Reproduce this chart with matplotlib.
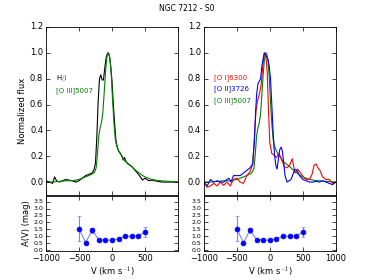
import numpy as np
import matplotlib
matplotlib.use('Agg')
import matplotlib.pyplot as plt

plt.style.use('classic')

# Left panel: Hbeta and [O III]5007 profiles
v_hb = [-1000, -950, -900, -870, -840, -800, -750, -700, -650, -600, -550, -500,
        -450, -400, -350, -300, -270, -250, -230, -210, -190, -170, -150, -130,
        -110, -90, -70, -55, -40, -20, 0, 20, 40, 60, 80, 100, 130, 150, 170,
        190, 210, 240, 270, 300, 350, 400, 430, 460, 500, 530, 560, 600, 650,
        700, 750, 800, 900, 1000]
f_hb = [0.01, 0.0, -0.01, 0.04, 0.01, 0.0, 0.01, 0.02, 0.015, 0.01, 0.0, 0.01,
        0.03, 0.05, 0.06, 0.07, 0.10, 0.15, 0.35, 0.62, 0.80, 0.83, 0.79, 0.79,
        0.88, 0.96, 0.995, 1.0, 0.98, 0.90, 0.78, 0.60, 0.45, 0.32, 0.27, 0.24,
        0.22, 0.20, 0.17, 0.19, 0.16, 0.14, 0.13, 0.12, 0.09, 0.06, 0.04, 0.015,
        0.03, 0.02, 0.01, 0.015, 0.01, 0.005, 0.0, 0.0, 0.0, 0.0]

v_o3 = [-1000, -900, -800, -700, -600, -500, -400, -330, -290, -260, -240,
        -220, -200, -180, -160, -140, -120, -100, -80, -60, -45, -30, -10, 10,
        30, 50, 70, 100, 150, 200, 250, 300, 350, 400, 450, 500, 600, 700, 800,
        900, 1000]
f_o3 = [0.0, 0.0, 0.005, 0.01, 0.01, 0.02, 0.04, 0.055, 0.065, 0.08, 0.11,
        0.22, 0.36, 0.42, 0.46, 0.53, 0.68, 0.84, 0.96, 1.0, 0.99, 0.95, 0.82,
        0.62, 0.45, 0.33, 0.28, 0.24, 0.20, 0.16, 0.14, 0.12, 0.095, 0.075,
        0.055, 0.04, 0.02, 0.012, 0.008, 0.004, 0.0]

# Right panel: [O I]6300 and [O II]3726 profiles
v_o1 = [-1000, -950, -900, -850, -800, -750, -700, -650, -600, -550, -500,
        -450, -400, -350, -300, -260, -230, -210, -190, -170, -150, -130, -110,
        -90, -75, -60, -40, -20, 0, 30, 60, 100, 130, 150, 180, 220, 260, 300,
        340, 380, 420, 450, 480, 520, 560, 600, 640, 670, 700, 730, 760, 800,
        850, 900, 950, 1000]
f_o1 = [0.0, -0.04, -0.03, -0.01, -0.03, 0.0, -0.025, 0.0, -0.03, 0.02, 0.03,
        0.0, -0.01, 0.05, 0.08, 0.14, 0.38, 0.55, 0.62, 0.66, 0.70, 0.76, 0.88,
        0.97, 1.0, 0.97, 0.85, 0.55, 0.30, 0.22, 0.21, 0.19, 0.22, 0.21, 0.17,
        0.12, 0.11, 0.13, 0.18, 0.07, 0.10, 0.08, 0.06, 0.03, 0.02, 0.02, 0.06,
        0.13, 0.14, 0.11, 0.09, 0.04, 0.02, 0.02, -0.01, 0.0]

v_o2 = [-1000, -950, -900, -850, -800, -750, -700, -650, -620, -590, -550,
        -500, -450, -400, -350, -300, -260, -235, -215, -200, -180, -160, -140,
        -120, -100, -85, -70, -50, -30, -10, 10, 30, 50, 70, 90, 110, 130, 150,
        170, 190, 210, 230, 260, 290, 320, 350, 380, 410, 450, 500, 550, 600,
        650, 700, 750, 800, 850, 900, 950, 1000]
f_o2 = [0.0, -0.03, 0.02, 0.0, 0.01, 0.0, 0.0, 0.02, 0.03, 0.0, 0.05, 0.05,
        0.05, 0.07, 0.09, 0.11, 0.14, 0.30, 0.55, 0.68, 0.76, 0.78, 0.80, 0.90,
        0.96, 1.0, 0.99, 0.97, 0.95, 0.90, 0.80, 0.60, 0.38, 0.22, 0.13, 0.10,
        0.18, 0.25, 0.27, 0.24, 0.15, 0.05, 0.0, 0.01, 0.02, 0.06, 0.10, 0.09,
        0.05, 0.02, 0.01, 0.0, 0.0, 0.005, 0.0, 0.01, 0.0, -0.01, -0.02, 0.0]

# Extinction A(V) per velocity bin
v_av = [-500, -400, -300, -200, -100, 0, 100, 200, 300, 400, 500]
av = [1.55, 0.55, 1.45, 0.75, 0.75, 0.72, 0.83, 1.02, 1.0, 1.05, 1.3]
av_err = [0.9, 0.05, 0.18, 0.05, 0.05, 0.05, 0.05, 0.05, 0.05, 0.08, 0.35]

fig = plt.figure(figsize=(3.74, 2.8), dpi=100)
fig.patch.set_facecolor('white')
fs = 6
W = 0.353
lefts = [0.123, 0.545]

for i, x0 in enumerate(lefts):
    ax = fig.add_axes([x0, 0.3036, W, 0.6])
    axb = fig.add_axes([x0, 0.1036, W, 0.1964])
    if i == 0:
        ax.plot(v_hb, f_hb, 'k-', lw=0.8)
        ax.plot(v_o3, f_o3, 'g-', lw=0.8)
        ax.text(-850, 0.80, r'H$\beta$', color='k', fontsize=5, va='center')
        ax.text(-850, 0.71, '[O III]5007', color='g', fontsize=5, va='center')
        ax.set_ylabel('Normalized flux', fontsize=fs, labelpad=2)
        axb.set_ylabel('A(V) (mag)', fontsize=fs, labelpad=2)
    else:
        ax.plot(v_o3, f_o3, 'g-', lw=0.8)
        ax.plot(v_o1, f_o1, 'r-', lw=0.8)
        ax.plot(v_o2, f_o2, 'b-', lw=0.8)
        ax.text(-850, 0.81, '[O I]6300', color='r', fontsize=5, va='center')
        ax.text(-850, 0.72, '[O II]3726', color='b', fontsize=5, va='center')
        ax.text(-850, 0.63, '[O III]5007', color='g', fontsize=5, va='center')
    ax.set_xlim(-1000, 1000)
    ax.set_ylim(-0.1, 1.2)
    ax.set_xticks([-1000, -500, 0, 500, 1000])
    ax.set_xticklabels([])
    ax.set_yticks(np.arange(0, 1.21, 0.2))
    ax.tick_params(labelsize=fs, length=3, width=0.5, pad=2)

    axb.errorbar(v_av, av, yerr=av_err, fmt='none', ecolor='#7f7fff',
                 elinewidth=0.8, capsize=1.5)
    axb.plot(v_av, av, '-', color='#7f7fff', lw=0.8)
    axb.plot(v_av, av, 'o', color='b', mec='b', ms=3.5)
    axb.set_xlim(-1000, 1000)
    axb.set_ylim(-0.05, 3.9)
    axb.set_yticks(np.arange(0, 3.6, 0.5))
    axb.set_xticks([-1000, -500, 0, 500, 1000])
    if i == 0:
        axb.set_xticklabels(['\u22121000', '\u2212500', '0', '500', ''])
    axb.set_xlabel(r'V (km s$^{-1}$)', fontsize=fs, labelpad=1)
    axb.tick_params(axis='x', labelsize=fs, length=3, width=0.5, pad=2)
    axb.tick_params(axis='y', labelsize=4.5, length=3, width=0.5, pad=2)
    for a in (ax, axb):
        for s in a.spines.values():
            s.set_linewidth(0.6)

fig.suptitle('NGC 7212 - S0', fontsize=5.5, y=0.985)
fig.savefig('out.png', dpi=100)
